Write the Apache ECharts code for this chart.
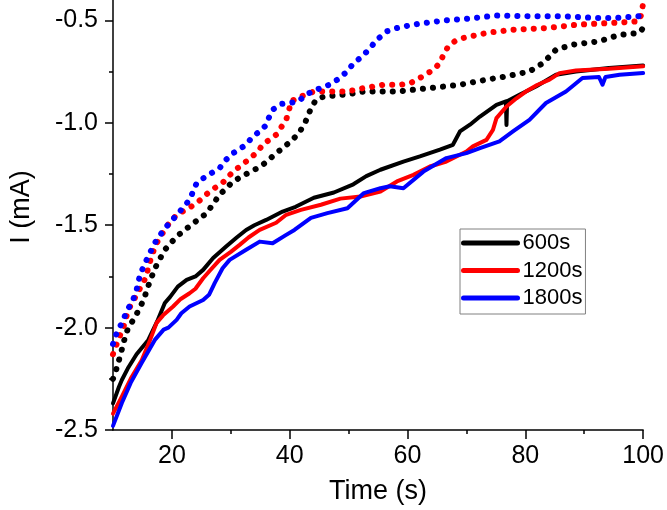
<!DOCTYPE html>
<html>
<head>
    <meta charset='utf-8' />
    <title>I vs Time</title>
    <style>
        body { margin: 0; padding: 0; background: #fff; }
        #chart { width: 667px; height: 510px; }
    </style>
    <script src="https://cdn.jsdelivr.net/npm/echarts@6/dist/echarts.min.js"></script>
</head>
<body>
    <div id='chart'></div>
    <script type="text/javascript">
        // tick labels
        var xTicks = [20, 40, 60, 80, 100];
        var xMinorTicks = [30, 50, 70, 90];
        var yTicks = [-2.5, -2.0, -1.5, -1.0, -0.5];
        var yMinorTicks = [-2.25, -1.75, -1.25, -0.75];

        var seriesNames = ['600s', '1200s', '1800s'];
        var colors = ['#000000', '#ff0000', '#0000ff'];

        // solid curves, [time, current]
        var solid600 = [[10,-2.37],[11,-2.29],[11.5,-2.256],[12.5,-2.2],[14,-2.13],[16,-2.06],[17.5,-1.97],[18.8,-1.88],[19.7,-1.85],[21,-1.80],[22.5,-1.767],[24,-1.75],[25.3,-1.718],[27,-1.66],[29.2,-1.604],[31,-1.56],[32.6,-1.523],[34,-1.50],[36,-1.474],[38.8,-1.433],[41,-1.41],[44.1,-1.366],[47.5,-1.34],[50.8,-1.30],[53,-1.26],[55.4,-1.229],[59.3,-1.189],[62.1,-1.164],[65.5,-1.131],[67.7,-1.107],[68.9,-1.042],[70.6,-1.009],[72.3,-0.969],[75.1,-0.912],[76.7,-0.895],[76.8,-1.01],[76.9,-0.895],[79,-0.863],[81.8,-0.822],[85.2,-0.765],[88.6,-0.749],[94.2,-0.732],[100,-0.72]];
        var solid1200 = [[10,-2.42],[11.5,-2.337],[13,-2.25],[14.9,-2.158],[16.3,-2.06],[17.4,-1.977],[18.5,-1.94],[20.2,-1.897],[21.5,-1.86],[23,-1.832],[24,-1.81],[25.3,-1.759],[26.5,-1.72],[28.1,-1.669],[30,-1.63],[31.5,-1.596],[33,-1.56],[34.9,-1.523],[37.7,-1.488],[39.4,-1.449],[41.9,-1.425],[45.3,-1.40],[48.6,-1.37],[52,-1.36],[55.4,-1.335],[58.2,-1.286],[61,-1.254],[63.8,-1.213],[66.6,-1.189],[70,-1.14],[71.1,-1.115],[73.4,-1.083],[74.5,-1.034],[75.1,-0.977],[76.8,-0.92],[78.5,-0.88],[80.1,-0.847],[82,-0.815],[84.1,-0.789],[85.8,-0.757],[88.6,-0.744],[94.2,-0.736],[100,-0.724]];
        var solid1800 = [[10,-2.48],[11.5,-2.368],[13,-2.27],[14.9,-2.17],[17.1,-2.06],[18.6,-2.01],[19.4,-2.0],[20.8,-1.962],[21.6,-1.93],[23,-1.897],[25.3,-1.865],[26.3,-1.84],[27.3,-1.78],[28.6,-1.71],[29.8,-1.669],[32.6,-1.62],[34.9,-1.58],[37.1,-1.588],[39.4,-1.547],[40.8,-1.523],[43.6,-1.464],[46.4,-1.441],[49.8,-1.417],[52.6,-1.343],[55.4,-1.319],[57,-1.31],[59.3,-1.319],[62.7,-1.238],[66.6,-1.172],[70,-1.148],[72.3,-1.123],[75.6,-1.09],[77.9,-1.042],[80.7,-0.985],[83.5,-0.903],[86.9,-0.847],[89.7,-0.781],[92.5,-0.776],[93.1,-0.814],[93.6,-0.776],[96,-0.765],[100,-0.757]];

        // dotted curves
        var dots600 = [[10,-2.25],[10.6,-2.2],[11.2,-2.14],[12.1,-2.04],[12.6,-2.0],[13.8,-1.946],[15.2,-1.865],[16.3,-1.77],[17.4,-1.694],[18.8,-1.62],[20.8,-1.555],[23.3,-1.498],[25.9,-1.441],[28.1,-1.351],[30.4,-1.286],[32.6,-1.25],[35.1,-1.213],[37.4,-1.156],[39.6,-1.104],[41,-1.067],[41.9,-1.034],[42.7,-0.993],[43.6,-0.93],[44.2,-0.9],[45,-0.877],[46.4,-0.87],[50,-0.86],[52.6,-0.847],[58.2,-0.847],[63.8,-0.83],[68.9,-0.814],[73.4,-0.789],[76.8,-0.773],[80.7,-0.749],[83,-0.708],[85.2,-0.643],[88,-0.618],[92.5,-0.602],[95.9,-0.571],[99.3,-0.561],[100,-0.537]];
        var dots1200 = [[10,-2.13],[10.5,-2.09],[11,-2.052],[11.8,-1.995],[12.6,-1.913],[14,-1.84],[15.5,-1.759],[16.6,-1.645],[17.4,-1.588],[19.1,-1.506],[20.8,-1.449],[22.8,-1.417],[24.2,-1.392],[26.4,-1.335],[28.7,-1.29],[30.4,-1.238],[32.6,-1.189],[34.6,-1.14],[35.4,-1.107],[37.7,-1.058],[39.4,-0.985],[39.9,-0.936],[40.2,-0.895],[41.9,-0.871],[44.1,-0.847],[49.8,-0.847],[52.6,-0.83],[56,-0.814],[58.8,-0.814],[60.5,-0.806],[61.6,-0.789],[63,-0.765],[64.4,-0.74],[65.5,-0.708],[66.1,-0.667],[66.9,-0.627],[68,-0.602],[69.4,-0.586],[73.4,-0.561],[77.9,-0.545],[83.5,-0.537],[89.1,-0.52],[94.8,-0.512],[99.3,-0.504],[99.8,-0.46],[100,-0.41]];
        var dots1800 = [[10,-2.08],[10.5,-2.036],[11.2,-1.995],[12.6,-1.905],[13.2,-1.881],[14,-1.816],[14.6,-1.74],[16,-1.65],[17.4,-1.571],[19.1,-1.506],[21.1,-1.441],[23,-1.376],[24.2,-1.294],[25.6,-1.265],[28.1,-1.221],[29.2,-1.18],[30.4,-1.148],[32.6,-1.107],[33.7,-1.067],[34.9,-1.042],[35.9,-1.014],[36.5,-0.972],[37.1,-0.936],[38.5,-0.908],[39.9,-0.903],[41.5,-0.895],[42.6,-0.866],[44.1,-0.842],[45.3,-0.83],[46.7,-0.814],[48.1,-0.789],[49.5,-0.755],[50.9,-0.708],[52.3,-0.675],[53.4,-0.643],[54.8,-0.594],[56.5,-0.553],[58.2,-0.537],[61,-0.52],[63.8,-0.509],[66.6,-0.499],[70,-0.492],[75.1,-0.476],[80.7,-0.479],[86.3,-0.479],[91.9,-0.488],[95.3,-0.488],[99.3,-0.479],[100,-0.47]];

        var font = 'Liberation Sans, Arial, sans-serif';
        var axisLineStyle = { color: '#000', width: 1.5 };

        function solidSeries(name, data, color) {
            return {
                name: name, type: 'line', data: data,
                showSymbol: false, symbol: 'none',
                lineStyle: { color: color, width: 4, join: 'round', cap: 'round' },
                itemStyle: { color: color }
            };
        }
        function dotSeries(name, data, color) {
            return {
                name: name, type: 'line', data: data,
                showSymbol: false, symbol: 'none',
                lineStyle: { color: color, width: 6, type: [0.1, 10], cap: 'round' },
                itemStyle: { color: color }
            };
        }

        var chart = echarts.init(document.getElementById('chart'));
        chart.setOption({
            animation: false,
            backgroundColor: '#fff',
            grid: { left: 111, right: 23, top: 0, bottom: 80 },
            legend: {
                data: seriesNames,
                orient: 'vertical',
                left: 460, top: 229,
                itemWidth: 54, itemHeight: 5, itemGap: 5.5,
                padding: [3, 3, 5, 1],
                borderColor: '#808080', borderWidth: 1,
                lineStyle: { width: 5, cap: 'round' },
                textStyle: { fontSize: 22, color: '#000', fontFamily: font }
            },
            xAxis: [{
                type: 'value', min: 10, max: 100,
                name: 'Time (s)', nameLocation: 'middle', nameGap: 48,
                nameTextStyle: { fontSize: 27, color: '#000', fontFamily: font },
                axisLine: { show: true, lineStyle: axisLineStyle },
                axisTick: { show: true, customValues: xTicks, length: 9, lineStyle: axisLineStyle },
                axisLabel: { customValues: xTicks, fontSize: 25, color: '#000', fontFamily: font, margin: 14 },
                splitLine: { show: false }
            }, {
                type: 'value', min: 10, max: 100, position: 'bottom',
                axisLine: { show: false },
                axisTick: { show: true, customValues: xMinorTicks, length: 4, lineStyle: axisLineStyle },
                axisLabel: { show: false },
                splitLine: { show: false }
            }],
            yAxis: [{
                type: 'value', min: -2.5, max: -0.4,
                name: 'I (mA)', nameLocation: 'middle', nameGap: 78,
                nameTextStyle: { fontSize: 27, color: '#000', fontFamily: font, padding: [0, 0, 0, 16] },
                axisLine: { show: true, lineStyle: axisLineStyle },
                axisTick: { show: true, customValues: yTicks, length: 8, lineStyle: axisLineStyle },
                axisLabel: {
                    customValues: yTicks, fontSize: 25, color: '#000', fontFamily: font, margin: 15,
                    formatter: function (v) { return v.toFixed(1); }
                },
                splitLine: { show: false }
            }, {
                type: 'value', min: -2.5, max: -0.4, position: 'left',
                axisLine: { show: false },
                axisTick: { show: true, customValues: yMinorTicks, length: 4, lineStyle: axisLineStyle },
                axisLabel: { show: false },
                splitLine: { show: false }
            }],
            series: [
                dotSeries('d600', dots600, colors[0]),
                dotSeries('d1200', dots1200, colors[1]),
                dotSeries('d1800', dots1800, colors[2]),
                solidSeries(seriesNames[0], solid600, colors[0]),
                solidSeries(seriesNames[1], solid1200, colors[1]),
                solidSeries(seriesNames[2], solid1800, colors[2])
            ]
        });
    </script>
</body>
</html>
